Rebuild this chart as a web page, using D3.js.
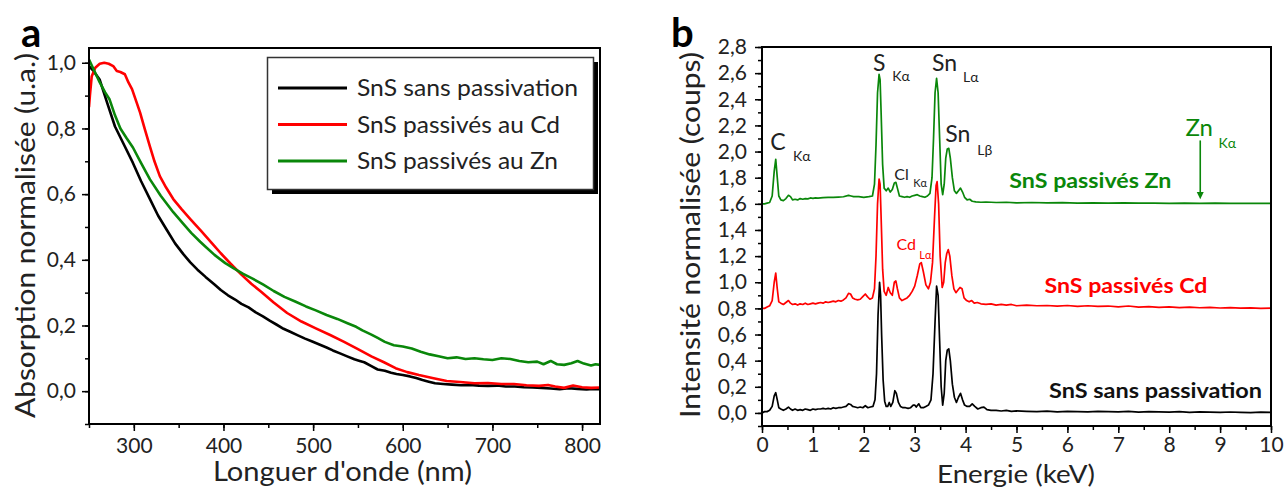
<!DOCTYPE html>
<html><head><meta charset="utf-8">
<script src="https://d3js.org/d3.v7.min.js"></script>
<style>
body{margin:0;background:#fff}
svg{display:block}
text{font-family:Lato,"Open Sans",sans-serif}
</style>
</head><body>
<svg id="c" width="1284" height="487"></svg>
<script>
// ---------- Panel a data (wavelength nm, normalised absorption) ----------
const absLabels = ["SnS sans passivation","SnS passivés au Cd","SnS passivés au Zn"];
const absBlack = [[250,0.99],[255,0.975],[262,0.948],[270,0.88],[279,0.806],[290,0.745],[299,0.695],[308,0.64],[318,0.585],[327,0.535],[337,0.49],[346,0.45],[355,0.418],[363,0.392],[371,0.37],[380,0.348],[390,0.325],[397,0.308],[405,0.292],[413,0.279],[420,0.266],[428,0.255],[436,0.24],[444,0.228],[452,0.214],[459,0.203],[467,0.19],[475,0.18],[483,0.17],[491,0.16],[499,0.151],[507,0.142],[515,0.133],[522,0.124],[530,0.115],[538,0.106],[546,0.097],[552,0.092],[557,0.088],[565,0.076],[572,0.066],[580,0.062],[587,0.056],[593,0.052],[600,0.049],[608,0.045],[615,0.04],[622,0.034],[629,0.029],[636,0.024],[645,0.022],[655,0.02],[665,0.018],[675,0.019],[685,0.017],[695,0.016],[705,0.017],[715,0.014],[725,0.014],[735,0.012],[745,0.011],[755,0.01],[765,0.008],[775,0.006],[785,0.009],[795,0.007],[805,0.005],[812,0.007],[820,0.006]];
const absCd = [[250,0.865],[251,0.9],[253,0.958],[257,0.985],[262,0.997],[267,1.0],[272,0.997],[277,0.99],[281,0.975],[285,0.972],[290,0.965],[294,0.94],[298,0.92],[303,0.88],[307,0.848],[312,0.8],[318,0.745],[323,0.7],[329,0.655],[336,0.62],[344,0.585],[353,0.555],[363,0.524],[375,0.488],[389,0.445],[397,0.42],[408,0.388],[420,0.355],[431,0.327],[442,0.303],[456,0.27],[471,0.238],[487,0.212],[503,0.191],[519,0.171],[534,0.151],[550,0.128],[565,0.106],[579,0.088],[592,0.07],[605,0.058],[618,0.049],[633,0.04],[649,0.031],[664,0.028],[680,0.024],[695,0.025],[710,0.022],[724,0.022],[738,0.018],[752,0.016],[762,0.019],[770,0.014],[780,0.01],[790,0.017],[800,0.012],[810,0.01],[820,0.011]];
const absZn = [[250,1.01],[256,0.975],[262,0.94],[268,0.91],[273,0.888],[279,0.84],[285,0.8],[292,0.77],[299,0.742],[308,0.695],[318,0.645],[330,0.595],[344,0.545],[355,0.51],[364,0.482],[374,0.455],[380,0.44],[390,0.415],[402,0.39],[412,0.373],[422,0.357],[433,0.342],[444,0.325],[456,0.305],[468,0.287],[480,0.273],[492,0.258],[503,0.246],[515,0.232],[527,0.22],[539,0.206],[548,0.196],[555,0.185],[565,0.172],[572,0.162],[580,0.15],[590,0.14],[600,0.136],[610,0.13],[620,0.12],[630,0.112],[640,0.106],[650,0.1],[660,0.103],[670,0.098],[680,0.1],[690,0.097],[700,0.095],[710,0.1],[720,0.098],[730,0.092],[740,0.088],[750,0.09],[757,0.082],[765,0.092],[772,0.082],[780,0.08],[788,0.085],[795,0.092],[802,0.084],[810,0.078],[815,0.082],[820,0.08]];
const absXTicks = [300,400,500,600,700,800];
const absYTicks = [0,0.2,0.4,0.6,0.8,1.0];

// ---------- Panel b data (energy keV, normalised intensity) ----------
const edsLabels = ["SnS sans passivation","SnS passivés Cd","SnS passivés Zn"];
const edsBlack = [[0,0],[0.05,0.01],[0.1,0.01],[0.15,0.02],[0.2,0.05],[0.24,0.13],[0.27,0.155],[0.3,0.1],[0.33,0.04],[0.37,0.03],[0.42,0.02],[0.47,0.03],[0.52,0.045],[0.56,0.03],[0.6,0.02],[0.65,0.03],[0.7,0.02],[0.75,0.025],[0.8,0.02],[0.85,0.03],[0.9,0.025],[0.95,0.02],[1.0,0.03],[1.05,0.025],[1.1,0.03],[1.15,0.03],[1.2,0.035],[1.25,0.03],[1.3,0.035],[1.35,0.03],[1.4,0.04],[1.45,0.035],[1.5,0.04],[1.55,0.04],[1.6,0.045],[1.65,0.05],[1.7,0.07],[1.74,0.065],[1.78,0.05],[1.83,0.045],[1.88,0.04],[1.93,0.045],[1.98,0.04],[2.03,0.055],[2.08,0.04],[2.13,0.045],[2.18,0.05],[2.22,0.1],[2.25,0.3],[2.28,0.75],[2.31,1.0],[2.33,0.9],[2.35,0.6],[2.38,0.25],[2.41,0.09],[2.44,0.05],[2.47,0.05],[2.5,0.08],[2.53,0.05],[2.57,0.08],[2.61,0.17],[2.64,0.15],[2.68,0.08],[2.72,0.05],[2.77,0.04],[2.82,0.04],[2.87,0.035],[2.92,0.04],[2.97,0.06],[3.0,0.06],[3.03,0.045],[3.08,0.07],[3.12,0.04],[3.17,0.04],[3.22,0.05],[3.27,0.06],[3.32,0.1],[3.36,0.3],[3.4,0.7],[3.43,0.97],[3.46,0.9],[3.49,0.55],[3.52,0.2],[3.55,0.06],[3.58,0.15],[3.61,0.4],[3.64,0.48],[3.67,0.49],[3.7,0.4],[3.74,0.22],[3.78,0.12],[3.82,0.08],[3.86,0.12],[3.9,0.15],[3.94,0.1],[3.98,0.06],[4.03,0.05],[4.08,0.05],[4.13,0.07],[4.18,0.05],[4.24,0.03],[4.3,0.04],[4.36,0.045],[4.42,0.025],[4.5,0.02],[4.6,0.02],[4.7,0.015],[4.8,0.02],[4.9,0.012],[5.0,0.015],[5.2,0.012],[5.4,0.01],[5.6,0.014],[5.8,0.008],[6.0,0.012],[6.2,0.01],[6.4,0.008],[6.6,0.012],[6.8,0.01],[7.0,0.008],[7.2,0.012],[7.4,0.006],[7.6,0.01],[7.8,0.008],[8.0,0.006],[8.2,0.01],[8.4,0.005],[8.6,0.008],[8.8,0.006],[9.0,0.004],[9.2,0.007],[9.4,0.005],[9.6,0.003],[9.8,0.006],[10.0,0.005]];
const edsCd = [[0,0.8],[0.05,0.8],[0.1,0.81],[0.15,0.82],[0.2,0.86],[0.24,1.0],[0.27,1.07],[0.3,0.95],[0.33,0.85],[0.37,0.84],[0.42,0.83],[0.47,0.845],[0.52,0.86],[0.56,0.84],[0.6,0.83],[0.65,0.835],[0.7,0.825],[0.75,0.835],[0.8,0.83],[0.85,0.84],[0.9,0.83],[0.95,0.835],[1.0,0.84],[1.05,0.835],[1.1,0.84],[1.15,0.845],[1.2,0.84],[1.25,0.85],[1.3,0.845],[1.35,0.85],[1.4,0.855],[1.45,0.85],[1.5,0.86],[1.55,0.855],[1.6,0.865],[1.65,0.88],[1.7,0.915],[1.74,0.91],[1.78,0.88],[1.83,0.87],[1.88,0.865],[1.93,0.87],[1.98,0.89],[2.03,0.91],[2.07,0.89],[2.12,0.87],[2.17,0.88],[2.21,0.95],[2.24,1.2],[2.27,1.6],[2.3,1.79],[2.32,1.75],[2.34,1.5],[2.37,1.1],[2.4,0.93],[2.44,0.9],[2.48,0.96],[2.52,0.92],[2.56,0.9],[2.6,1.0],[2.63,1.01],[2.66,0.95],[2.7,0.88],[2.75,0.86],[2.8,0.87],[2.85,0.88],[2.9,0.9],[2.95,0.93],[3.0,0.97],[3.05,1.05],[3.1,1.14],[3.13,1.15],[3.17,1.08],[3.22,0.98],[3.27,0.95],[3.31,1.0],[3.35,1.15],[3.39,1.5],[3.42,1.74],[3.44,1.77],[3.47,1.6],[3.5,1.2],[3.54,0.96],[3.57,1.0],[3.6,1.15],[3.63,1.22],[3.66,1.25],[3.69,1.2],[3.73,1.05],[3.77,0.95],[3.81,0.92],[3.85,0.94],[3.89,0.96],[3.93,0.95],[3.97,0.88],[4.02,0.86],[4.07,0.85],[4.12,0.86],[4.17,0.84],[4.23,0.845],[4.3,0.835],[4.4,0.83],[4.5,0.835],[4.6,0.825],[4.7,0.83],[4.8,0.825],[4.9,0.83],[5.0,0.82],[5.2,0.825],[5.4,0.82],[5.6,0.822],[5.8,0.818],[6.0,0.822],[6.2,0.815],[6.4,0.82],[6.6,0.815],[6.8,0.818],[7.0,0.812],[7.2,0.818],[7.4,0.81],[7.6,0.814],[7.8,0.808],[8.0,0.812],[8.2,0.806],[8.4,0.81],[8.6,0.805],[8.8,0.808],[9.0,0.803],[9.2,0.806],[9.4,0.802],[9.6,0.804],[9.8,0.8],[10.0,0.802]];
const edsZn = [[0,1.6],[0.05,1.6],[0.1,1.605],[0.15,1.61],[0.2,1.66],[0.24,1.85],[0.27,1.94],[0.3,1.8],[0.33,1.66],[0.37,1.63],[0.42,1.625],[0.47,1.64],[0.52,1.665],[0.56,1.655],[0.6,1.63],[0.65,1.635],[0.7,1.63],[0.75,1.64],[0.8,1.635],[0.85,1.64],[0.9,1.638],[0.95,1.645],[1.0,1.642],[1.05,1.646],[1.1,1.644],[1.2,1.648],[1.3,1.65],[1.4,1.65],[1.5,1.652],[1.6,1.654],[1.7,1.665],[1.75,1.66],[1.8,1.655],[1.9,1.655],[2.0,1.65],[2.1,1.655],[2.17,1.66],[2.21,1.75],[2.24,2.05],[2.27,2.45],[2.3,2.59],[2.32,2.55],[2.34,2.3],[2.37,1.9],[2.4,1.72],[2.44,1.7],[2.48,1.72],[2.52,1.69],[2.56,1.71],[2.6,1.76],[2.63,1.765],[2.66,1.72],[2.7,1.66],[2.75,1.655],[2.8,1.65],[2.85,1.655],[2.9,1.65],[2.95,1.66],[3.0,1.665],[3.05,1.67],[3.1,1.66],[3.15,1.655],[3.2,1.65],[3.25,1.66],[3.3,1.68],[3.34,1.8],[3.37,2.1],[3.4,2.45],[3.43,2.56],[3.46,2.45],[3.49,2.1],[3.52,1.75],[3.55,1.67],[3.58,1.75],[3.61,1.95],[3.64,2.02],[3.67,2.025],[3.7,1.95],[3.74,1.8],[3.78,1.7],[3.82,1.68],[3.86,1.7],[3.9,1.72],[3.94,1.69],[3.98,1.65],[4.03,1.63],[4.08,1.635],[4.13,1.62],[4.2,1.615],[4.3,1.612],[4.4,1.614],[4.6,1.61],[4.8,1.612],[5.0,1.608],[5.3,1.61],[5.6,1.607],[5.9,1.609],[6.2,1.606],[6.5,1.608],[6.8,1.605],[7.1,1.607],[7.4,1.605],[7.7,1.606],[8.0,1.604],[8.3,1.606],[8.6,1.604],[8.9,1.605],[9.2,1.603],[9.5,1.604],[9.8,1.603],[10.0,1.603]];
const edsXTicks = [0,1,2,3,4,5,6,7,8,9,10];
const edsYTicks = [0,0.2,0.4,0.6,0.8,1.0,1.2,1.4,1.6,1.8,2.0,2.2,2.4,2.6,2.8];

const colBlack = "#000000", colRed = "#ff0000", colGreen = "#0a870a", colText = "#222222";
const fmt = v => d3.format(".1f")(v).replace(".", ",");

const svg = d3.select("#c");
const defs = svg.append("defs");

function frame(g, x, y, opts) {
  const [x0, x1] = x.range(), [y1, y0] = y.range();
  const style = s => { s.select(".domain").remove(); s.selectAll("line").attr("stroke","#000").attr("stroke-width",1.5); };
  g.append("g").attr("transform", `translate(0,${y1})`)
    .call(d3.axisBottom(x).tickValues(opts.xMinor).tickSize(4).tickFormat("")).call(style);
  g.append("g").attr("transform", `translate(${x0},0)`)
    .call(d3.axisLeft(y).tickValues(opts.yMinor).tickSize(4).tickFormat("")).call(style);
  const gx = g.append("g").attr("transform", `translate(0,${y1})`)
    .call(d3.axisBottom(x).tickValues(opts.xTicks).tickSize(7).tickPadding(opts.xPad).tickFormat(opts.xFmt)).call(style);
  gx.selectAll("text").attr("font-size",opts.tickFont).attr("fill",colText).style("font-family","Lato");
  const gy = g.append("g").attr("transform", `translate(${x0},0)`)
    .call(d3.axisLeft(y).tickValues(opts.yTicks).tickSize(7).tickPadding(opts.yPad).tickFormat(fmt)).call(style);
  gy.selectAll("text").attr("font-size",opts.tickFont).attr("fill",colText).style("font-family","Lato");
  g.append("rect").attr("x",x0).attr("y",y0).attr("width",x1-x0).attr("height",y1-y0)
    .attr("fill","none").attr("stroke","#000").attr("stroke-width",2);
}

function label(g, txt, x, y, size, len, opts = {}) {
  const t = g.append("text").attr("x",x).attr("y",y).attr("font-size",size)
    .attr("fill",opts.fill || colText).text(txt);
  if (opts.bold) t.attr("font-weight","bold");
  if (opts.anchor) t.attr("text-anchor",opts.anchor);
  if (opts.rotate) t.attr("transform",`rotate(-90,${x},${y})`);
  if (len) t.attr("textLength",len).attr("lengthAdjust","spacingAndGlyphs");
  return t;
}

// ---------------- Panel a ----------------
const ax = d3.scaleLinear().domain([250, 820]).range([89, 600]);
const ay = d3.scaleLinear().domain([-0.1, 1.045]).range([424, 48]);
const gA = svg.append("g");
defs.append("clipPath").attr("id","clipA").append("rect")
  .attr("x",89).attr("y",48).attr("width",511).attr("height",376);
const lineA = d3.line().x(d => ax(d[0])).y(d => ay(d[1]));
[[absBlack,colBlack],[absCd,colRed],[absZn,colGreen]].forEach(([d,c]) => {
  gA.append("path").datum(d).attr("d", lineA).attr("fill","none").attr("stroke",c)
    .attr("stroke-width",2.6).attr("stroke-linejoin","round").attr("clip-path","url(#clipA)");
});
frame(gA, ax, ay, {
  xTicks: absXTicks, xMinor: d3.range(250, 821, 50), yTicks: absYTicks, yMinor: d3.range(-0.1, 1.05, 0.1),
  xFmt: d3.format("d"), tickFont: 21, xPad: 7, yPad: 6
});
// legend
const leg = gA.append("g");
leg.append("rect").attr("x",272).attr("y",62).attr("width",326).attr("height",132).attr("fill","#000");
leg.append("rect").attr("x",267.5).attr("y",57.5).attr("width",326).attr("height",132).attr("fill","#fff")
  .attr("stroke","#333").attr("stroke-width",1.5);
const legLens = [221, 203, 201];
[colBlack,colRed,colGreen].forEach((c,i) => {
  const yy = 88 + i*36.5;
  leg.append("line").attr("x1",278).attr("x2",347).attr("y1",yy).attr("y2",yy).attr("stroke",c).attr("stroke-width",3);
  label(leg, absLabels[i], 357, yy+8, 23, legLens[i]);
});
label(gA, "Longuer d'onde (nm)", 213, 481, 26, 259);
label(gA, "Absorption normalisée (u.a.)", 35, 418, 26, 365, {rotate:true});
label(gA, "a", 21, 47, 40, null, {bold:true, fill:"#000"});

// ---------------- Panel b ----------------
const bx = d3.scaleLinear().domain([0, 10]).range([762, 1271]);
const by = d3.scaleLinear().domain([-0.1, 2.8]).range([426, 47]);
const gB = svg.append("g");
defs.append("clipPath").attr("id","clipB").append("rect")
  .attr("x",762).attr("y",47).attr("width",509).attr("height",379);
const lineB = d3.line().x(d => bx(d[0])).y(d => by(d[1]));
[[edsZn,colGreen],[edsCd,colRed],[edsBlack,colBlack]].forEach(([d,c]) => {
  gB.append("path").datum(d).attr("d", lineB).attr("fill","none").attr("stroke",c)
    .attr("stroke-width",1.7).attr("stroke-linejoin","round").attr("clip-path","url(#clipB)");
});
frame(gB, bx, by, {
  xTicks: edsXTicks, xMinor: d3.range(0, 10.01, 0.5), yTicks: edsYTicks, yMinor: d3.range(-0.1, 2.81, 0.1),
  xFmt: d3.format("d"), tickFont: 21, xPad: 4, yPad: 8
});
label(gB, "Energie (keV)", 937, 483, 25, 158);
label(gB, "Intensité normalisée (coups)", 700, 418, 26, 366, {rotate:true});
label(gB, "b", 671, 47, 40, null, {bold:true, fill:"#000"});

// peak annotations: text baseline at (energy, intensity)
const peakNotes = [
  {t:"C", e:0.16, v:2.01, s:23, c:colText}, {t:"Kα", e:0.61, v:1.93, s:14, c:colText},
  {t:"S", e:2.18, v:2.62, s:23, c:colText}, {t:"Kα", e:2.56, v:2.54, s:14, c:colText},
  {t:"Sn", e:3.34, v:2.62, s:23, c:colText}, {t:"Lα", e:3.95, v:2.53, s:14, c:colText},
  {t:"Sn", e:3.6, v:2.07, s:23, c:colText}, {t:"Lβ", e:4.23, v:1.97, s:14, c:colText},
  {t:"Cl", e:2.6, v:1.78, s:16, c:colText}, {t:"Kα", e:2.97, v:1.725, s:11, c:colText},
  {t:"Cd", e:2.64, v:1.244, s:16, c:colRed}, {t:"Lα", e:3.09, v:1.176, s:11, c:colRed},
  {t:"Zn", e:8.32, v:2.12, s:24, c:colGreen}, {t:"Kα", e:8.97, v:2.03, s:14, c:colGreen}
];
peakNotes.forEach(n => label(gB, n.t, bx(n.e), by(n.v), n.s, null, {fill:n.c}));
const seriesNotes = [
  {t:edsLabels[2], e:4.86, v:1.72, c:colGreen, w:162},
  {t:edsLabels[1], e:5.55, v:0.916, c:colRed, w:163},
  {t:edsLabels[0], e:5.64, v:0.115, c:"#111", w:213}
];
seriesNotes.forEach(n => label(gB, n.t, bx(n.e), by(n.v), 21, n.w, {bold:true, fill:n.c}));
// Zn arrow
const arrowE = 8.61;
gB.append("line").attr("x1",bx(arrowE)).attr("x2",bx(arrowE)).attr("y1",by(2.085)).attr("y2",by(1.67))
  .attr("stroke",colGreen).attr("stroke-width",1.6);
gB.append("path").attr("d",`M${bx(arrowE)-3.5},${by(1.69)} L${bx(arrowE)+3.5},${by(1.69)} L${bx(arrowE)},${by(1.635)} Z`).attr("fill",colGreen);
</script>
</body></html>
